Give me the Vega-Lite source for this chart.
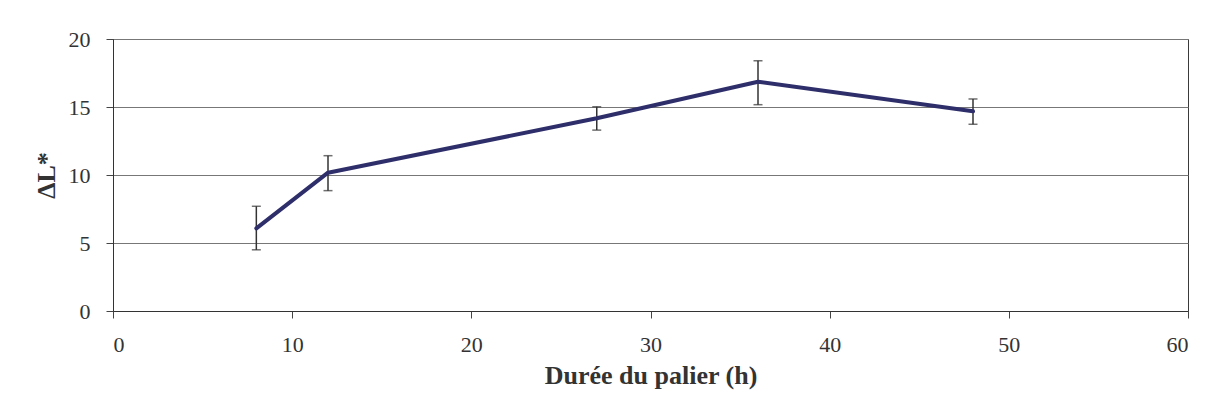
{
  "$schema": "https://vega.github.io/schema/vega-lite/v6.json",
  "width": 1075,
  "height": 272,
  "autosize": {"type": "none"},
  "padding": {"left": 113, "top": 39, "right": 20, "bottom": 105},
  "background": "white",
  "config": {
    "view": {"stroke": "#3a3a3a", "strokeWidth": 1},
    "font": "Liberation Serif",
    "axis": {
      "labelFont": "Liberation Serif",
      "titleFont": "Liberation Serif",
      "labelFontSize": 22,
      "titleFontSize": 26,
      "labelColor": "#333333",
      "titleColor": "#333333",
      "titleFontWeight": "bold",
      "domainColor": "#333333",
      "tickColor": "#444444",
      "tickSize": 7,
      "gridColor": "#777777",
      "gridWidth": 1
    }
  },
  "data": {
    "values": [
      {"duree": 8, "dL": 6.08, "lo": 4.5, "hi": 7.7},
      {"duree": 12, "dL": 10.17, "lo": 8.85, "hi": 11.42},
      {"duree": 27, "dL": 14.17, "lo": 13.3, "hi": 15.02},
      {"duree": 36, "dL": 16.86, "lo": 15.17, "hi": 18.4},
      {"duree": 48, "dL": 14.68, "lo": 13.73, "hi": 15.59}
    ]
  },
  "encoding": {
    "x": {
      "field": "duree",
      "type": "quantitative",
      "scale": {"domain": [0, 60], "nice": false},
      "axis": {
        "title": "Durée du palier (h)",
        "values": [0, 10, 20, 30, 40, 50, 60],
        "grid": false,
        "labelPadding": 16,
        "titlePadding": 7
      }
    }
  },
  "layer": [
    {
      "mark": {"type": "rule", "color": "#333333", "strokeWidth": 1.5},
      "encoding": {
        "y": {
          "field": "lo",
          "type": "quantitative",
          "scale": {"domain": [0, 20], "nice": false},
          "axis": {
            "title": "ΔL*",
            "values": [0, 5, 10, 15, 20],
            "grid": true,
            "labelPadding": 16,
            "titlePadding": 9
          }
        },
        "y2": {"field": "hi"}
      }
    },
    {
      "mark": {"type": "tick", "orient": "horizontal", "color": "#333333", "size": 9, "thickness": 1.5},
      "encoding": {"y": {"field": "lo", "type": "quantitative"}}
    },
    {
      "mark": {"type": "tick", "orient": "horizontal", "color": "#333333", "size": 9, "thickness": 1.5},
      "encoding": {"y": {"field": "hi", "type": "quantitative"}}
    },
    {
      "mark": {"type": "line", "color": "#2e2e6b", "strokeWidth": 4, "strokeJoin": "round", "strokeCap": "round"},
      "encoding": {"y": {"field": "dL", "type": "quantitative"}}
    }
  ]
}
